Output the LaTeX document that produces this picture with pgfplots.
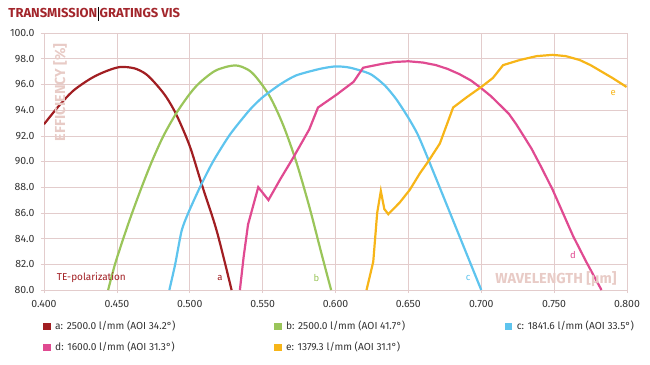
\documentclass[border=0pt]{standalone}
\usepackage{fontspec}
\setmainfont{Fira Sans}
\usepackage{pgfplots}
\pgfplotsset{compat=1.18}
\definecolor{ca}{HTML}{A11E22}
\definecolor{cb}{HTML}{9AC55A}
\definecolor{cc}{HTML}{5EC4EE}
\definecolor{cd}{HTML}{E04A91}
\definecolor{ce}{HTML}{F7B518}
\definecolor{titlered}{HTML}{A3262C}
\definecolor{gridc}{HTML}{E3CCCC}
\definecolor{lbl}{HTML}{E8CBC6}
\definecolor{tickc}{HTML}{333333}
\begin{document}
\begin{tikzpicture}
\useasboundingbox (0,0) rectangle (650pt,364pt);
\node[anchor=base west, inner sep=0pt, text=titlered, font=\fontsize{13}{13}\selectfont\bfseries] at (8.3pt,346.7pt)
  {TRANSMISSION\hspace{0.8pt}\textcolor{black}{\rule[-3.4pt]{0.8pt}{13.4pt}}\hspace{0.8pt}GRATINGS VIS};
\begin{axis}[
  at={(44pt,74pt)}, anchor=south west,
  scale only axis, width=583pt, height=257pt,
  xmin=0.4, xmax=0.8, ymin=80, ymax=100,
  xtick={0.4,0.45,0.5,0.55,0.6,0.65,0.7,0.75,0.8},
  ytick={80,82,84,86,88,90,92,94,96,98,100},
  grid=major,
  grid style={draw=gridc, line width=0.6pt},
  axis line style={draw=gridc, line width=0.6pt},
  tick style={draw=gridc, line width=0.6pt},
  tick align=outside, major tick length=3pt,
  xtick pos=bottom, ytick pos=left,
  /pgf/number format/assume math mode=true,
  tick label style={font=\fontsize{10.5}{11}\selectfont, text=tickc},
  xticklabel style={yshift=-3.5pt, /pgf/number format/.cd, fixed, fixed zerofill, precision=3},
  yticklabel style={xshift=-3pt, /pgf/number format/.cd, fixed, fixed zerofill, precision=1},
  scaled x ticks=false,
  legend columns=3,
  legend style={at={(axis description cs:0,0)}, anchor=north west, xshift=-1.3pt, yshift=-31pt,
    draw=none, fill=none, inner sep=0pt, row sep=11pt,
    font=\fontsize{10.2}{11}\selectfont, text=tickc,
    nodes={inner sep=0pt, anchor=west}},
  legend cell align=left,
  legend image code/.code={\fill[#1,draw=none] (0pt,-3.7pt) rectangle (7.8pt,3.7pt);},
  every axis plot/.append style={line width=2.2pt},
]
\addplot[color=ca, smooth, tension=0.5] coordinates {
(0.400,92.9) (0.410,94.3) (0.420,95.5) (0.432,96.45) (0.442,97.0) (0.452,97.35)
(0.462,97.25) (0.470,96.8) (0.477,96.0) (0.484,95.0) (0.491,93.6) (0.500,91.2)
(0.508,88.3) (0.5185,84.6) (0.5287,80.0)};
\addlegendentry{\makebox[223pt][l]{\hspace{4.5pt}a: 2500.0 l/mm (AOI 34.2°)}}
\addplot[color=cb, smooth, tension=0.5] coordinates {
(0.444,80.0) (0.4487,82.0) (0.4544,84.0) (0.460,85.85) (0.467,88.0) (0.474,90.0)
(0.482,92.0) (0.491,93.8) (0.500,95.26) (0.507,96.15) (0.518,97.09) (0.531,97.48)
(0.540,97.14) (0.546,96.5) (0.555,95.05) (0.564,92.86) (0.573,90.0) (0.582,86.5)
(0.590,83.0) (0.597,80.0)};
\addlegendentry{\makebox[223pt][l]{\hspace{4.5pt}b: 2500.0 l/mm (AOI 41.7°)}}
\addplot[color=cc, smooth, tension=0.4] coordinates {
(0.486,80.0) (0.490,82.0) (0.4944,84.6) (0.499,86.0) (0.507,88.0) (0.516,90.0)
(0.5276,92.1) (0.541,94.0) (0.550,95.0) (0.562,96.0) (0.573,96.7) (0.589,97.2)
(0.600,97.4) (0.610,97.3) (0.624,96.8) (0.634,95.9) (0.642,94.8) (0.650,93.4)
(0.656,92.2) (0.661,90.9) (0.670,88.4) (0.680,85.6) (0.690,82.8) (0.700,80.0)};
\addlegendentry{\hspace{4.5pt}c: 1841.6 l/mm (AOI 33.5°)}
\addplot[color=cd] coordinates {
(0.5344,80.0) (0.537,82.6) (0.540,85.1) (0.547,88.0) (0.554,87.0) (0.562,88.6)
(0.571,90.3) (0.582,92.5) (0.588,94.2) (0.6007,95.2) (0.6124,96.2) (0.619,97.3)
(0.632,97.6) (0.641,97.75) (0.650,97.8) (0.660,97.7) (0.669,97.5) (0.677,97.2)
(0.685,96.8) (0.693,96.3) (0.700,95.7) (0.7065,95.1) (0.7128,94.4) (0.719,93.7)
(0.724,92.9) (0.729,92.0) (0.7345,91.0) (0.741,89.6) (0.749,87.8) (0.756,86.0)
(0.763,84.2) (0.772,82.2) (0.7825,80.0)};
\addlegendentry{\hspace{4.5pt}d: 1600.0 l/mm (AOI 31.3°)}
\addplot[color=ce] coordinates {
(0.6213,80.0) (0.6259,82.2) (0.6286,86.0) (0.6311,87.7) (0.6335,86.3) (0.6362,85.9)
(0.644,86.8) (0.651,87.8) (0.658,89.1) (0.6636,90.0) (0.6716,91.4) (0.6807,94.2)
(0.690,95.0) (0.700,95.8) (0.708,96.5) (0.715,97.5) (0.7265,97.9) (0.738,98.2)
(0.749,98.3) (0.758,98.2) (0.7675,97.9) (0.775,97.5) (0.781,97.1) (0.790,96.5)
(0.7997,95.8)};
\addlegendentry{\hspace{4.5pt}e: 1379.3 l/mm (AOI 31.1°)}
\node[text=ca, font=\fontsize{10}{10}\selectfont] at (axis cs:0.4325,80.93) {TE-polarization};
\node[text=ca, font=\fontsize{9.5}{10}\selectfont] at (axis cs:0.5207,80.93) {a};
\node[text=cb, font=\fontsize{9.5}{10}\selectfont] at (axis cs:0.587,80.93) {b};
\node[text=cc, font=\fontsize{9.5}{10}\selectfont] at (axis cs:0.691,80.93) {c};
\node[text=cd, font=\fontsize{9.5}{10}\selectfont] at (axis cs:0.763,82.75) {d};
\node[text=ce, font=\fontsize{9.5}{10}\selectfont] at (axis cs:0.7905,95.3) {e};
\node[text=lbl, font=\fontsize{14.5}{15}\selectfont\bfseries, rotate=90] at (axis cs:0.411,95.39) {EFFICIENCY [\%]};
\node[text=lbl, font=\fontsize{14.5}{15}\selectfont\bfseries] at (axis cs:0.7512,80.88) {WAVELENGTH [μm]};
\end{axis}
\end{tikzpicture}
\end{document}
